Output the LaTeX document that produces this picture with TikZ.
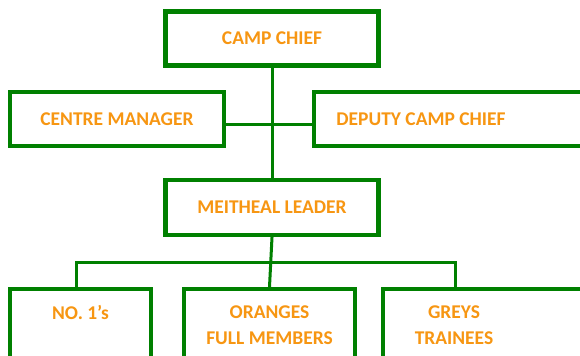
\documentclass[tikz,border=0pt]{standalone}
\usepackage{fontspec}
\setmainfont{Carlito}
\newlength{\du}
\setlength{\du}{0.75pt}
\definecolor{boxgreen}{rgb}{0.000000, 0.501961, 0.000000}
\definecolor{textorange}{rgb}{0.968627, 0.588235, 0.070588}
\tikzset{
  postbox/.style={draw=boxgreen, line width=4.3\du, fill=white, minimum width=#1, minimum height=54\du, inner sep=0pt},
  posttext/.style={text=textorange, font=\bfseries\fontsize{14.6}{19.5}\selectfont, align=center},
  link/.style={draw=boxgreen, line width=3\du}
}

\begin{document}
\begin{tikzpicture}
\pgftransformxscale{1.000000}
\pgftransformyscale{-1.000000}
\useasboundingbox (0\du,0\du) rectangle (580\du,355\du);
\clip (0\du,0\du) rectangle (580\du,355\du);
% top row
\node[postbox=213\du, posttext] (camp) at (272\du,38.5\du){CAMP CHIEF};
\node[postbox=213.5\du, posttext] (centre) at (117\du,119\du){CENTRE MANAGER};
\node[postbox=290\du] (deputy) at (459\du,119\du){};
\node[posttext] (deputytext) at (421\du,119\du){DEPUTY CAMP CHIEF};
\node[postbox=213\du, minimum height=55\du, posttext] (meitheal) at (272\du,207.5\du){MEITHEAL LEADER};
% bottom row
\node[postbox=141\du, minimum height=72\du, posttext] (no1) at (80.5\du,325\du){NO. 1’s\\~};
\node[postbox=171\du, minimum height=72\du, posttext] (oranges) at (269.5\du,325\du){ORANGES\\FULL MEMBERS};
\node[postbox=220\du, minimum height=72\du] (greys) at (493\du,325\du){};
\node[posttext] (greystext) at (454\du,325\du){GREYS\\TRAINEES};
% links
\coordinate (hub) at (272\du,124\du);
\coordinate (busL) at (76\du,262\du);
\coordinate (busR) at (455\du,262\du);
\draw[link] (camp.south) -- (meitheal.north);
\draw[link] (centre.east |- hub) -- (deputy.west |- hub);
\draw[link] (meitheal.south) -- (oranges.north);
\draw[link] (busL |- no1.north) -- (busL) -- (busR) -- (busR |- greys.north);
\end{tikzpicture}
\end{document}
